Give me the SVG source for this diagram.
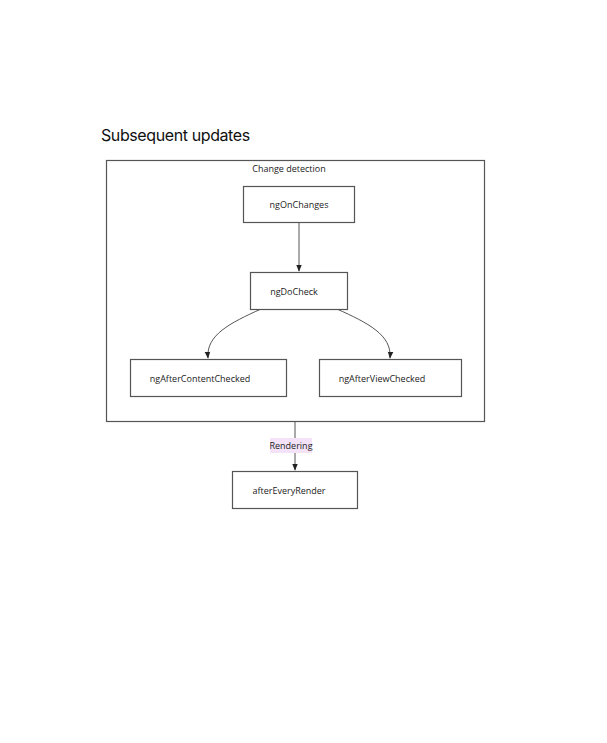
<svg xmlns="http://www.w3.org/2000/svg" width="607" height="743" viewBox="0 0 607 743">
<style>
.node rect{fill:#fff;stroke:#555;stroke-width:1.2}
.node text,.lbl{font-family:"Open Sans","Noto Sans",sans-serif;font-size:9px;fill:#222;text-anchor:middle;dominant-baseline:central}
.edge{fill:none;stroke:#555;stroke-width:1}
</style>
<defs>
<marker id="arr" viewBox="0 0 10 10" refX="9" refY="5" markerWidth="7" markerHeight="7" orient="auto"><path d="M0,1 L10,5 L0,9 z" fill="#222"/></marker>
</defs>
<rect width="607" height="743" fill="#fff"/>
<text x="101" y="141" font-family="Inter,'Liberation Sans',sans-serif" font-size="16" letter-spacing="-0.4" fill="#111">Subsequent updates</text>
<g id="change-detection">
<rect x="106.5" y="160.5" width="378" height="261" fill="none" stroke="#555" stroke-width="1.2"/>
<text class="lbl" x="289" y="168">Change detection</text>
</g>
<g id="edges">
<line class="edge" x1="299" y1="222" x2="299" y2="271" marker-end="url(#arr)"/>
<path class="edge" d="M261,309 C230,323 206,335 208,358" marker-end="url(#arr)"/>
<path class="edge" d="M337,309 C368,323 392,335 390,358" marker-end="url(#arr)"/>
<line class="edge" x1="295" y1="421" x2="295" y2="470" marker-end="url(#arr)"/>
<rect x="270" y="438" width="42" height="15" fill="#f3e2f8"/>
<text class="lbl" x="291" y="445.5">Rendering</text>
</g>
<g id="ngOnChanges" class="node"><rect x="243.5" y="186.5" width="111" height="36"/><text x="299" y="204">ngOnChanges</text></g>
<g id="ngDoCheck" class="node"><rect x="250.5" y="272.5" width="97" height="37"/><text x="294" y="291">ngDoCheck</text></g>
<g id="ngAfterContentChecked" class="node"><rect x="130.5" y="359.5" width="156" height="37"/><text x="200" y="378">ngAfterContentChecked</text></g>
<g id="ngAfterViewChecked" class="node"><rect x="319.5" y="359.5" width="142" height="37"/><text x="382" y="378">ngAfterViewChecked</text></g>
<g id="afterEveryRender" class="node"><rect x="232.5" y="471.5" width="125" height="37"/><text x="289" y="490">afterEveryRender</text></g>
</svg>
